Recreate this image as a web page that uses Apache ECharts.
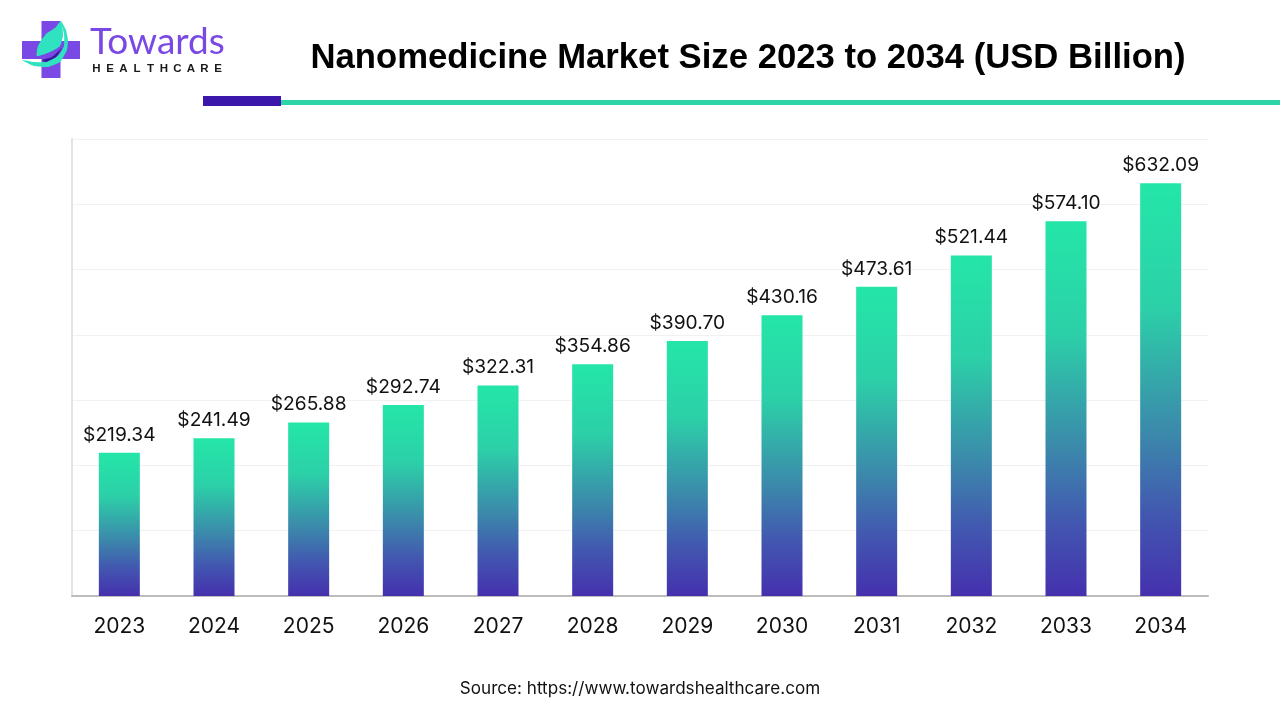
<!DOCTYPE html>
<html>
<head>
<meta charset="utf-8">
<style>html,body{margin:0;padding:0;background:#fff}#chart{width:1280px;height:720px}</style>
<script src="https://cdn.jsdelivr.net/npm/echarts@6/dist/echarts.min.js"></script>
</head>
<body>
<div id="chart"></div>
<script>
var years = ['2023','2024','2025','2026','2027','2028','2029','2030','2031','2032','2033','2034'];
var marketSize = [219.34,241.49,265.88,292.74,322.31,354.86,390.70,430.16,473.61,521.44,574.10,632.09];
var logoLetters = 'HEALTHCARE'.split('');

var chart = echarts.init(document.getElementById('chart'));
var font = '"Liberation Sans", Arial, sans-serif';
var labelFont = 'Inter, "Liberation Sans", sans-serif';
var purple = '#7a48e4';
var teal = '#2fe3c0';

// canvas text has no letter spacing, so the logo's second line goes letter by letter
var letterEls = logoLetters.map(function (ch, i) {
  return { type: 'text', style: { x: 96.5 + 13.5 * i, y: 63, align: 'center', text: ch, fill: '#1a1a1a', font: 'bold 11.5px ' + font } };
});

chart.setOption({
  animation: false,
  backgroundColor: '#fff',
  title: {
    text: 'Nanomedicine Market Size 2023 to 2034 (USD Billion)',
    left: 743, top: 36, textAlign: 'center',
    textStyle: { fontFamily: font, fontSize: 34.7, fontWeight: 'bold', color: '#000' }
  },
  grid: { left: 72, right: 72, top: 139, bottom: 124 },
  xAxis: {
    type: 'category',
    data: years,
    axisTick: { show: false },
    axisLine: { lineStyle: { color: '#bdbdbd', width: 2 } },
    axisLabel: { fontFamily: labelFont, fontSize: 21, color: '#111', margin: 20 }
  },
  yAxis: {
    type: 'value',
    min: 0, max: 700, interval: 100,
    axisLabel: { show: false },
    axisTick: { show: false },
    axisLine: { show: true, lineStyle: { color: '#e3e3e3', width: 2 } },
    splitLine: { lineStyle: { color: '#f1f1f1', width: 1 } }
  },
  series: [{
    type: 'bar',
    data: marketSize,
    barWidth: 41,
    itemStyle: {
      color: new echarts.graphic.LinearGradient(0, 0, 0, 1, [
        { offset: 0, color: '#24e6a8' },
        { offset: 0.3, color: '#2cd0a8' },
        { offset: 0.6, color: '#3b8aab' },
        { offset: 0.8, color: '#4258b0' },
        { offset: 1, color: '#4530ae' }
      ])
    },
    label: {
      show: true,
      position: 'top',
      distance: 8.5,
      fontFamily: labelFont,
      fontSize: 19.2,
      color: '#111',
      formatter: function (p) { return '$' + p.value.toFixed(2); }
    }
  }],
  graphic: [
    // header rule
    { type: 'rect', shape: { x: 281, y: 100, width: 999, height: 5 }, style: { fill: '#2dd4a8' } },
    { type: 'rect', shape: { x: 203, y: 96, width: 78, height: 10 }, style: { fill: '#3b18ab' } },
    // logo
    { type: 'rect', shape: { x: 41.5, y: 21, width: 19, height: 57 }, style: { fill: purple } },
    { type: 'rect', shape: { x: 22, y: 41, width: 58, height: 18 }, style: { fill: purple } },
    { type: 'polygon', shape: { points: [[22,60],[34,66],[48,67],[60,62],[67,50],[68,40],[66,30],[61,21],[64,34],[64,46],[58,56],[46,62],[34,62]], smooth: 0.15 }, style: { fill: teal } },
    { type: 'polygon', shape: { points: [[42,60],[52,57],[62,48],[56,57],[46,62]], smooth: 0.15 }, style: { fill: '#34199c' } },
    { type: 'polygon', shape: { points: [[61,21],[63,35],[60,46],[50,52],[37,56],[38,46],[46,34],[55,28]], smooth: 0.2 }, style: { fill: teal } },
    { type: 'text', style: { x: 90, y: 24, text: 'Towards', fill: purple, font: '400 37px Lato, sans-serif' } }
  ].concat(letterEls).concat([
    // source line
    { type: 'text', style: { x: 640, y: 680, align: 'center', text: 'Source: https://www.towardshealthcare.com', fill: '#111', font: '17.1px ' + labelFont } }
  ])
});
</script>
</body>
</html>
